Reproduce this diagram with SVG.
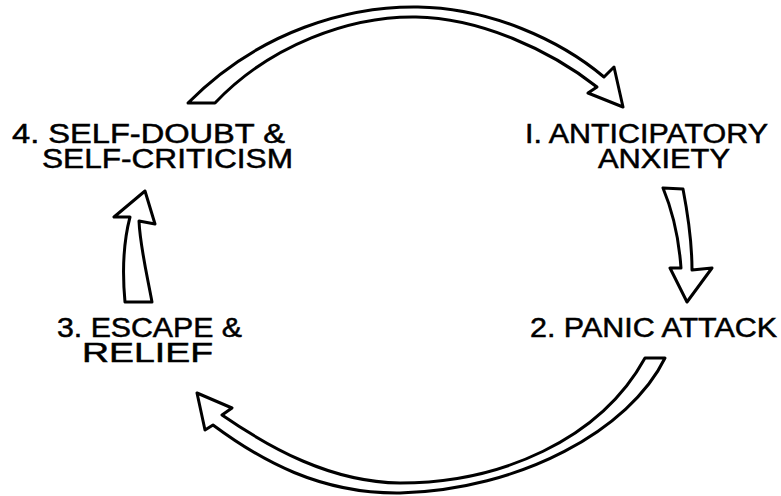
<svg xmlns="http://www.w3.org/2000/svg" width="781" height="496" viewBox="0 0 781 496">
<style>
.lbl{font-family:"Liberation Sans",Arial,sans-serif;font-size:27px;fill:#000;stroke:#000;stroke-width:0.5;}
.arr{fill:#fff;stroke:#000;stroke-width:3;stroke-linejoin:round;}
</style>
<rect width="781" height="496" fill="#fff"/>
<g id="connectors">
<path class="arr" d="M188,103 C260,30 350,6 418,7 C490,8 560,40 604,77 L614,67 L623,107 L588,93 L597,87 C550,50 480,18 416,17 C350,16 270,45 215,103 Z"/>
<path class="arr" d="M663,188 L683,189 C688,215 692,245 692,270 L712,268 L687,302 L670,268 L681,268 C679,240 673,212 663,188 Z"/>
<path class="arr" d="M645,358 L665,358 C630,430 520,490 400,493 C320,494 260,460 213,425 L205,430 L197,393 L232,408 L222,415 C270,448 330,482 400,483 C500,483 600,440 645,358 Z"/>
<path class="arr" d="M125,302 L152,302 C146,270 140,245 139,221 L155,224 L145,191 L114,217 L130,217 C124,240 122,270 125,302 Z"/>
</g>
<g id="node1">
<text class="lbl" x="525" y="143" textLength="243" lengthAdjust="spacingAndGlyphs">I. ANTICIPATORY</text>
<text class="lbl" x="598" y="168" textLength="132" lengthAdjust="spacingAndGlyphs">ANXIETY</text>
</g>
<g id="node2">
<text class="lbl" x="530" y="337" textLength="247" lengthAdjust="spacingAndGlyphs">2. PANIC ATTACK</text>
</g>
<g id="node3">
<text class="lbl" x="57" y="337" textLength="185" lengthAdjust="spacingAndGlyphs">3. ESCAPE &amp;</text>
<text class="lbl" x="82" y="362" textLength="131" lengthAdjust="spacingAndGlyphs">RELIEF</text>
</g>
<g id="node4">
<text class="lbl" x="12" y="143" textLength="273" lengthAdjust="spacingAndGlyphs">4. SELF-DOUBT &amp;</text>
<text class="lbl" x="42" y="168" textLength="251" lengthAdjust="spacingAndGlyphs">SELF-CRITICISM</text>
</g>
</svg>
